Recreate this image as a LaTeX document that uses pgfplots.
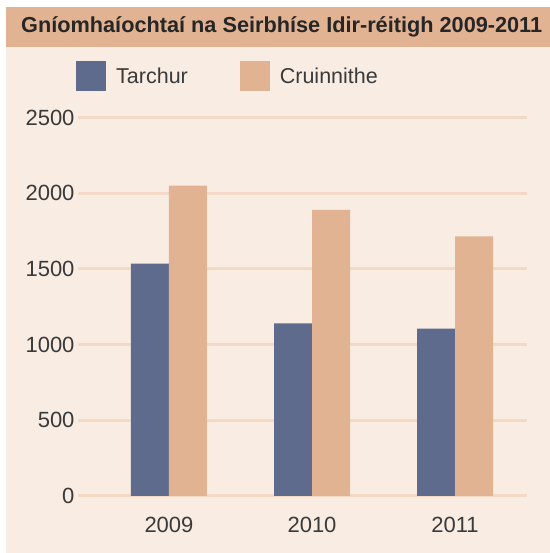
\documentclass[border=0pt]{standalone}
\usepackage{fontspec}
\setmainfont{Liberation Sans}
\usepackage{pgfplots}
\pgfplotsset{compat=1.18}
\definecolor{panelBg}{HTML}{F8ECE3}
\definecolor{titleBand}{HTML}{E2B393}
\definecolor{gridPeach}{HTML}{F3D9C6}
\definecolor{tarchurBlue}{HTML}{5F6B8C}
\definecolor{cruinOrange}{HTML}{E2B393}
\definecolor{labelInk}{HTML}{3A3A3A}

\begin{document}
\begin{tikzpicture}[x=1bp,y=1bp]
  \fill[white] (0,0) rectangle (550,553);
  \useasboundingbox (0,0) rectangle (550,553);
  \fill[panelBg] (6,0) rectangle (550,546);
  \fill[titleBand] (6,506) rectangle (550,546);
  \node[anchor=west, inner sep=0pt, text=black!85,
        font=\fontsize{21.7bp}{26bp}\selectfont\bfseries] at (21,526)
        {Gníomhaíochtaí na Seirbhíse Idir-réitigh 2009-2011};
  \begin{axis}[
      at={(78bp,57bp)}, anchor=south west,
      scale only axis,
      width=449bp, height=378.5bp,
      clip=false,
      ybar=0pt, bar width=38bp,
      xmin=-0.636, xmax=2.503,
      ymin=0, ymax=2500,
      xtick={0,1,2}, xticklabels={2009,2010,2011},
      ytick={0,500,...,2500},
      ymajorgrids,
      grid style={draw=gridPeach, line width=3bp},
      axis line style={draw=none},
      major tick style={draw=none},
      tick label style={font=\fontsize{22bp}{26bp}\selectfont, text=labelInk},
      xticklabel style={anchor=center, yshift=-25bp},
      /pgf/number format/1000 sep={},
      /pgf/number format/assume math mode=true,
      legend image code/.code={\fill[#1] (0bp,-15bp) rectangle (30bp,15bp);},
      legend style={draw=none, fill=none, at={(-0.0045,1.1083)}, anchor=west,
        legend columns=2, inner sep=0pt,
        font=\fontsize{21.5bp}{26bp}\selectfont, text=labelInk,
        /tikz/every odd column/.append style={column sep=8bp},
        /tikz/every even column/.append style={column sep=50bp}},
    ]
    \addplot[fill=tarchurBlue, draw=none] coordinates {(0,1535) (1,1140) (2,1105)};
    \addplot[fill=cruinOrange, draw=none] coordinates {(0,2050) (1,1890) (2,1715)};
    \legend{Tarchur, Cruinnithe}
  \end{axis}
\end{tikzpicture}
\end{document}
